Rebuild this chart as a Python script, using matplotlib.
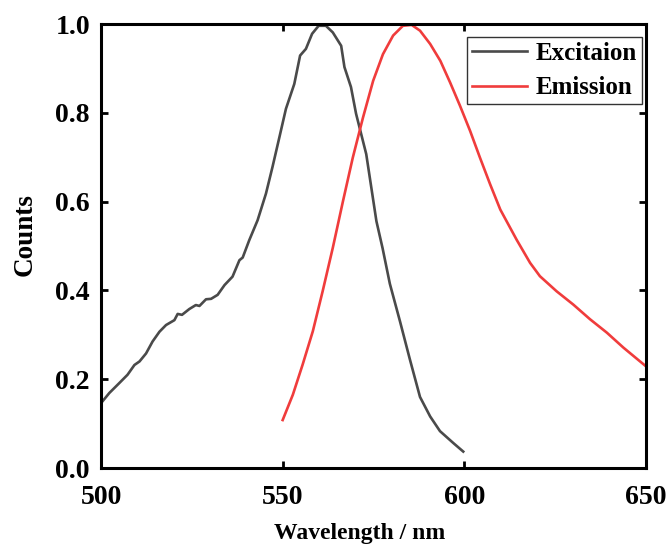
import matplotlib
matplotlib.use("Agg")
import matplotlib.pyplot as plt

exc_x = [500.0, 502.3, 505.0, 507.3, 509.2, 510.6, 512.4, 514.2, 516.1, 517.9, 520.2, 521.1,
         522.3, 524.3, 526.1, 527.1, 528.9, 530.3, 532.1, 534.0, 536.2, 538.1, 539.0, 540.8,
         543.1, 545.4, 547.2, 549.1, 550.9, 553.2, 554.8, 556.4, 558.1, 559.9, 561.9, 563.8,
         566.1, 567.0, 568.8, 570.2, 573.0, 575.8, 577.5, 579.5, 582.3, 585.0, 587.8, 590.6,
         593.3, 597.0, 599.7]
exc_y = [0.146, 0.169, 0.191, 0.210, 0.232, 0.240, 0.258, 0.285, 0.307, 0.322, 0.333, 0.347,
         0.345, 0.358, 0.367, 0.365, 0.380, 0.381, 0.390, 0.412, 0.431, 0.468, 0.474, 0.513,
         0.558, 0.618, 0.678, 0.745, 0.809, 0.865, 0.929, 0.944, 0.978, 0.996, 0.996, 0.981,
         0.951, 0.903, 0.858, 0.798, 0.707, 0.556, 0.495, 0.415, 0.330, 0.245, 0.160, 0.116,
         0.083, 0.056, 0.037]

emi_x = [550.0, 552.8, 555.5, 558.3, 561.0, 563.8, 566.6, 569.3, 572.1, 574.9, 577.6, 580.4,
         583.1, 585.5, 587.8, 590.6, 593.4, 596.1, 598.8, 601.6, 604.3, 607.1, 609.9, 614.4,
         618.1, 620.8, 625.4, 630.0, 634.6, 639.2, 643.8, 649.7]
emi_y = [0.108, 0.165, 0.233, 0.308, 0.398, 0.496, 0.601, 0.699, 0.789, 0.872, 0.932, 0.974,
         0.996, 0.998, 0.985, 0.955, 0.917, 0.868, 0.816, 0.759, 0.699, 0.639, 0.582, 0.514,
         0.462, 0.432, 0.398, 0.368, 0.335, 0.305, 0.271, 0.231]

x_ticks = [500, 550, 600, 650]
y_ticks = [0.0, 0.2, 0.4, 0.6, 0.8, 1.0]

plt.rcParams['font.family'] = ['Liberation Serif', 'DejaVu Serif']
plt.rcParams['font.weight'] = 'bold'

fig = plt.figure(figsize=(6.67, 5.47), dpi=100)
ax = fig.add_axes([101/667, 1-468/547, 545/667, 444/547])

ax.plot(exc_x, exc_y, color='#4a4a4a', lw=1.9, label='Excitaion')
ax.plot(emi_x, emi_y, color='#f03c3c', lw=1.9, label='Emission')

ax.set_xlim(500, 650)
ax.set_ylim(0, 1.0)
ax.set_xticks(x_ticks)
ax.set_yticks(y_ticks)
ax.set_yticklabels([f"{v:.1f}" for v in y_ticks])
ax.tick_params(direction='in', length=5, width=2, labelsize=20, top=True, right=True)
ax.tick_params(axis='y', pad=8)
ax.tick_params(axis='x', pad=12)
for lab in ax.get_xticklabels() + ax.get_yticklabels():
    lab.set_fontweight('bold')
for s in ax.spines.values():
    s.set_linewidth(2.2)

ax.set_xlabel('Wavelength / nm', fontsize=17, fontweight='bold')
ax.set_ylabel('Counts', fontsize=19.5, fontweight='bold')
ax.xaxis.set_label_coords((360-101)/545, (468-523)/444)
ax.yaxis.set_label_coords((38-101)/545, (468-235)/444)

leg = ax.legend(loc='upper right', bbox_to_anchor=((642-101)/545, (468-37)/444),
                fontsize=18, frameon=True, fancybox=False,
                edgecolor='black', handlelength=2.2, borderpad=0.2, labelspacing=0.45,
                handletextpad=0.35, borderaxespad=0.0)
leg.get_frame().set_linewidth(1.0)
for t in leg.get_texts():
    t.set_fontweight('bold')

fig.savefig('out.png', dpi=100)
